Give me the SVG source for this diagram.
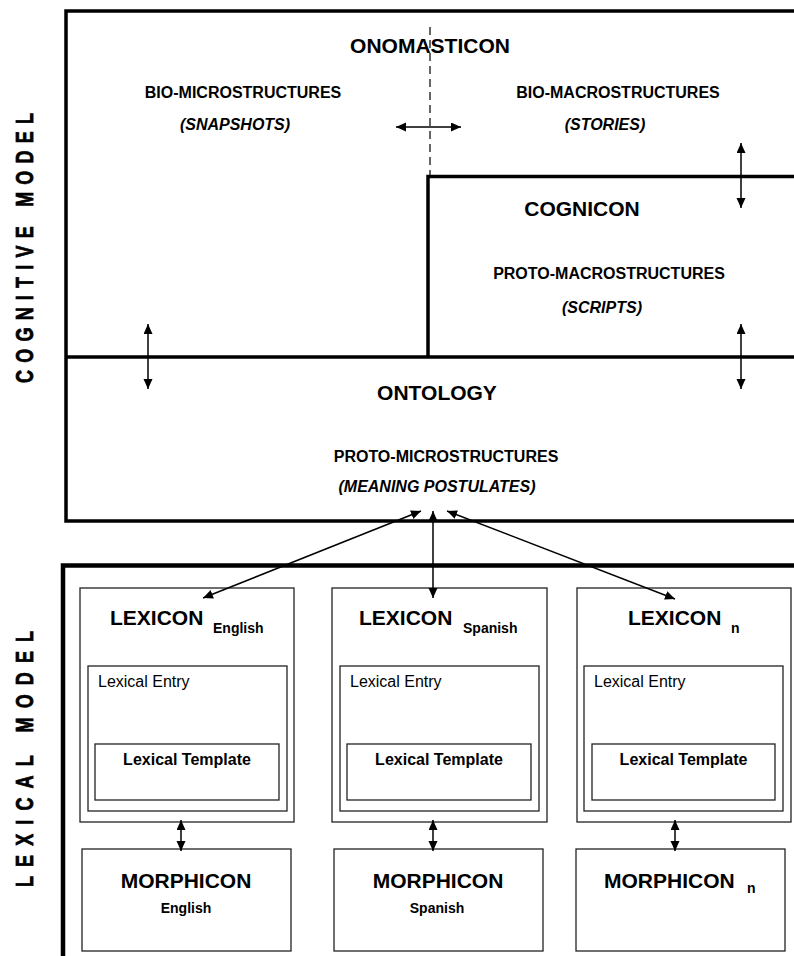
<svg xmlns="http://www.w3.org/2000/svg" width="794" height="956" viewBox="0 0 794 956">
<style>
.t{font-family:"Liberation Sans",Arial,sans-serif;fill:#000}
.h{font-size:21px;font-weight:bold}
.s{font-size:16px;font-weight:bold}
.i{font-size:16px;font-weight:bold;font-style:italic}
.sub{font-size:14px;font-weight:bold}
.r{font-size:16px}
.side{font-size:18px;font-weight:bold;stroke:#000;stroke-width:0.6}
.thick{fill:none;stroke:#000;stroke-width:3.5}
.box{fill:#fff;stroke:#222;stroke-width:1.3}
.conn{fill:none;stroke:#000;stroke-width:1.5;marker-start:url(#ah);marker-end:url(#ah)}
</style>
<defs>
<marker id="ah" markerUnits="userSpaceOnUse" markerWidth="11" markerHeight="10" refX="10" refY="4.5" orient="auto-start-reverse" viewBox="0 0 11 10">
<path d="M0,0 L10,4.5 L0,9 z" fill="#000"/>
</marker>
</defs>
<rect width="794" height="956" fill="#fff"/>

<g id="side-labels">
<text class="t side" transform="translate(33,383) rotate(-90) scale(1,1.3)" textLength="270" lengthAdjust="spacing">COGNITIVE MODEL</text>
<text class="t side" transform="translate(33,887) rotate(-90) scale(1,1.3)" textLength="256" lengthAdjust="spacing">LEXICAL MODEL</text>
</g>

<g id="cognitive-model">
<path class="thick" d="M800,11 H66 V521 H800"/>
<path class="thick" d="M66,357 H800"/>
<path class="thick" d="M428,357 V176.5 H800"/>
<path d="M430,27 V176" fill="none" stroke="#000" stroke-width="1.2" stroke-dasharray="8,5"/>
</g>

<g id="onomasticon">
<text class="t h" x="430" y="53" text-anchor="middle">ONOMASTICON</text>
<text class="t s" x="243" y="98" text-anchor="middle">BIO-MICROSTRUCTURES</text>
<text class="t i" x="235" y="130" text-anchor="middle">(SNAPSHOTS)</text>
<text class="t s" x="618" y="98" text-anchor="middle">BIO-MACROSTRUCTURES</text>
<text class="t i" x="605" y="130" text-anchor="middle">(STORIES)</text>
</g>

<g id="cognicon">
<text class="t h" x="582" y="216" text-anchor="middle">COGNICON</text>
<text class="t s" x="609" y="279" text-anchor="middle">PROTO-MACROSTRUCTURES</text>
<text class="t i" x="602" y="313" text-anchor="middle">(SCRIPTS)</text>
</g>

<g id="ontology">
<text class="t h" x="437" y="400" text-anchor="middle">ONTOLOGY</text>
<text class="t s" x="446" y="462" text-anchor="middle">PROTO-MICROSTRUCTURES</text>
<text class="t i" x="437" y="492" text-anchor="middle">(MEANING POSTULATES)</text>
</g>

<g id="lexical-model">
<path d="M63,960 V565.5 H800" fill="none" stroke="#000" stroke-width="4.5"/>
</g>

<g id="lexicon-english">
<rect class="box" x="80" y="588" width="214" height="234"/>
<text class="t h" x="110" y="625">LEXICON</text>
<text class="t sub" x="213" y="633">English</text>
<rect class="box" x="88" y="666" width="199" height="145"/>
<text class="t r" x="98" y="687">Lexical Entry</text>
<rect class="box" x="95" y="744" width="184" height="56"/>
<text class="t s" x="187" y="765" text-anchor="middle">Lexical Template</text>
</g>

<g id="lexicon-spanish">
<rect class="box" x="332" y="588" width="215" height="234"/>
<text class="t h" x="359" y="625">LEXICON</text>
<text class="t sub" x="463" y="633">Spanish</text>
<rect class="box" x="340" y="666" width="199" height="145"/>
<text class="t r" x="350" y="687">Lexical Entry</text>
<rect class="box" x="347" y="744" width="184" height="56"/>
<text class="t s" x="439" y="765" text-anchor="middle">Lexical Template</text>
</g>

<g id="lexicon-n">
<rect class="box" x="577" y="588" width="214" height="234"/>
<text class="t h" x="628" y="625">LEXICON</text>
<text class="t sub" x="731" y="633">n</text>
<rect class="box" x="584" y="666" width="199" height="145"/>
<text class="t r" x="594" y="687">Lexical Entry</text>
<rect class="box" x="592" y="744" width="183" height="56"/>
<text class="t s" x="683.5" y="765" text-anchor="middle">Lexical Template</text>
</g>

<g id="morphicon-english">
<rect class="box" x="82" y="849" width="209" height="102"/>
<text class="t h" x="186" y="888" text-anchor="middle">MORPHICON</text>
<text class="t sub" x="186" y="913" text-anchor="middle">English</text>
</g>

<g id="morphicon-spanish">
<rect class="box" x="334" y="849" width="209" height="102"/>
<text class="t h" x="438" y="888" text-anchor="middle">MORPHICON</text>
<text class="t sub" x="437" y="913" text-anchor="middle">Spanish</text>
</g>

<g id="morphicon-n">
<rect class="box" x="576" y="849" width="209" height="102"/>
<text class="t h" x="604" y="888">MORPHICON</text>
<text class="t sub" x="747" y="893">n</text>
</g>

<g id="connectors">
<line class="conn" x1="396" y1="127" x2="461" y2="127"/>
<line class="conn" x1="741" y1="143" x2="741" y2="208"/>
<line class="conn" x1="741" y1="324" x2="741" y2="389"/>
<line class="conn" x1="148" y1="324" x2="148" y2="389"/>
<line class="conn" x1="421" y1="511" x2="203" y2="598"/>
<line class="conn" x1="433" y1="511" x2="433" y2="598"/>
<line class="conn" x1="447" y1="511" x2="675" y2="599"/>
<line class="conn" x1="181" y1="820" x2="181" y2="851"/>
<line class="conn" x1="433" y1="820" x2="433" y2="851"/>
<line class="conn" x1="675" y1="820" x2="675" y2="851"/>
</g>
</svg>
